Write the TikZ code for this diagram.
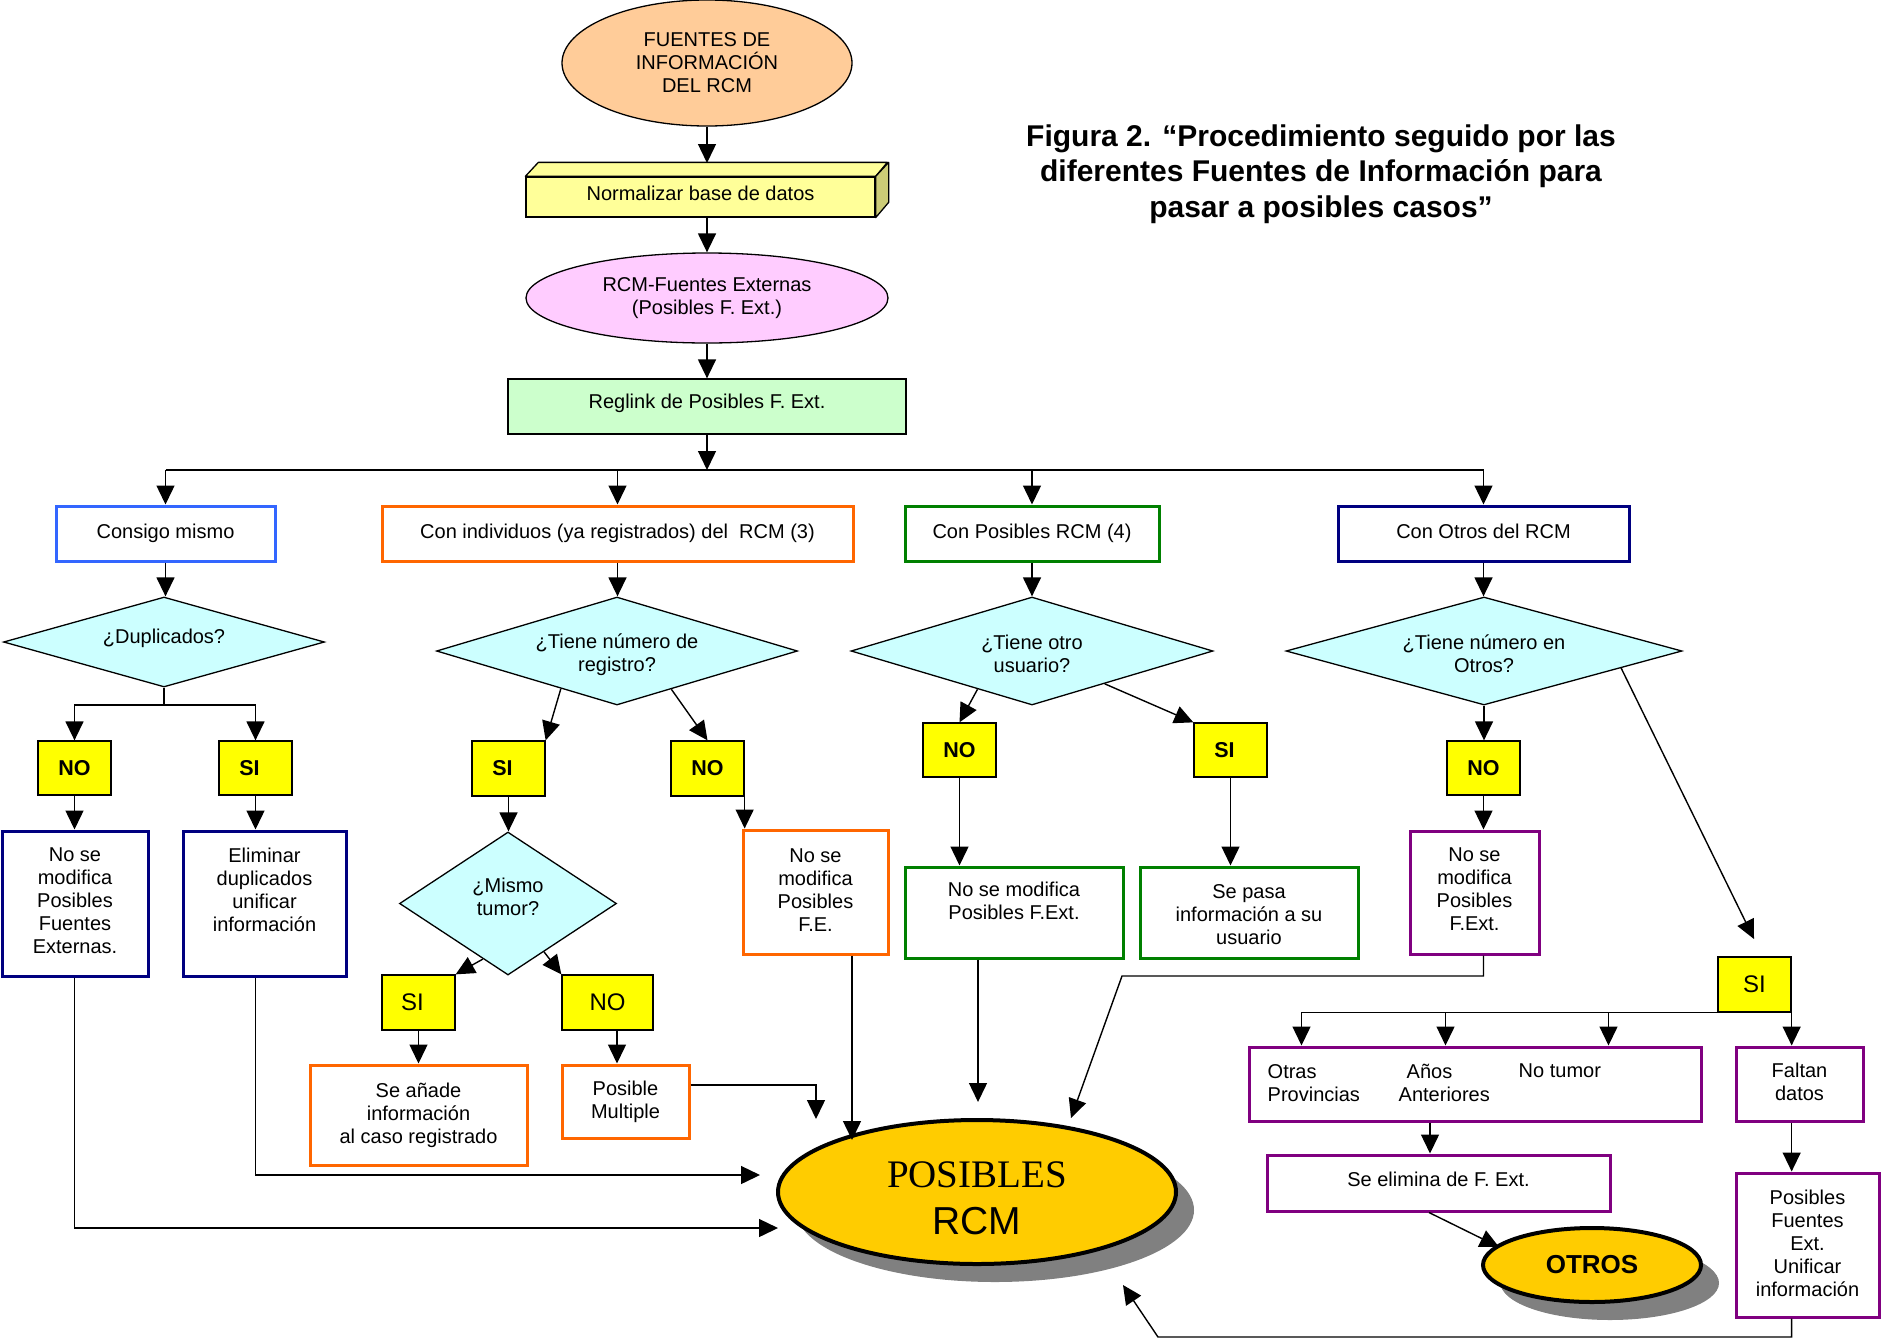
\documentclass[tikz,border=0pt]{standalone}
\usepackage{fontspec}
\setmainfont{Liberation Sans}
\newfontfamily\serifR{Liberation Serif}
\usetikzlibrary{shapes.geometric,arrows.meta,calc,shadows}

\definecolor{peach}{HTML}{FFCC99}
\definecolor{lyell}{HTML}{FFFF99}
\definecolor{sidecol}{HTML}{CCCC77}
\definecolor{pinkv}{HTML}{FFCCFF}
\definecolor{lgreen}{HTML}{CCFFCC}
\definecolor{cyanl}{HTML}{CCFFFF}
\definecolor{ynyel}{HTML}{FFFF00}
\definecolor{cblue}{HTML}{3366FF}
\definecolor{corange}{HTML}{FF6600}
\definecolor{cgreen}{HTML}{008000}
\definecolor{cnavy}{HTML}{000080}
\definecolor{cpurple}{HTML}{800080}
\definecolor{gold}{HTML}{FFCC00}

\newcommand{\fsz}[2]{\fontsize{#1}{#2}\selectfont}
\newcommand{\sileft}{SI\kern12pt}

\begin{document}
\begin{tikzpicture}[x=1pt,y=-1pt,
  every node/.style={inner sep=0pt, font=\fsz{20}{23}},
  arr/.style={line width=1.4pt, -{Triangle[length=19pt,width=18pt]}},
  ln/.style={line width=1.4pt},
  box/.style={draw=#1, line width=3pt, fill=white, rectangle},
  rowbox/.style={box=#1, minimum height=55pt, text height=14.5pt, text depth=4.5pt},
  tb/.style={anchor=north, align=center},
  yn/.style={draw, line width=1.3pt, fill=ynyel, minimum width=73pt, minimum height=54pt, font=\bfseries\fsz{21.5}{24}},
  ynr/.style={draw, line width=1.3pt, fill=ynyel, minimum width=73pt, minimum height=55pt, font=\fsz{24}{26}},
  dia/.style={diamond, draw, line width=1.3pt, fill=cyanl},
  dt/.style={align=center},
  gold ell/.style={ellipse, draw, line width=4pt, fill=gold, align=center,
     drop shadow={shadow xshift=18pt, shadow yshift=-18pt, fill=black!50, opacity=1}}
]
\useasboundingbox (0,0) rectangle (1881,1339);

% ---------- title ----------
\node[align=center, font=\bfseries\fsz{30}{35.5}] (title) at (1321,174)
  {Figura 2. “Procedimiento seguido por las\\diferentes Fuentes de Información para\\pasar a posibles casos”};

% ---------- top chain ----------
\node[ellipse, draw, line width=1.3pt, fill=peach, minimum width=290pt, minimum height=126pt, align=center]
  (fuentes) at (707,63) {FUENTES DE\\INFORMACIÓN\\DEL RCM};

\node[draw, line width=1.3pt, fill=lyell, minimum width=349pt, minimum height=40pt, text depth=7pt]
  (norm) at (700.5,197) {Normalizar base de datos};
\draw[fill=lyell, line width=1.3pt, line join=round] (norm.north west) -- ++(13,-14) -- ++(349,0) -- (norm.north east) -- cycle;
\draw[fill=sidecol, line width=1.3pt, line join=round] (norm.north east) -- ++(13,-14) -- ++(0,40) -- (norm.south east) -- cycle;
\coordinate (normtop) at (707,163);

\node[ellipse, draw, line width=1.3pt, fill=pinkv, minimum width=362pt, minimum height=90pt, align=center]
  (rcmext) at (707,298) {RCM-Fuentes Externas\\(Posibles F. Ext.)};

\node[draw, line width=1.3pt, fill=lgreen, minimum width=398pt, minimum height=55pt, text depth=11pt]
  (reglink) at (707,406.5) {Reglink de Posibles F. Ext.};

\coordinate (bus) at (707,470);

% ---------- row of four ----------
\node[rowbox=cblue, minimum width=219pt] (consigo) at (165.5,533.5) {Consigo mismo};
\node[rowbox=corange, minimum width=471pt] (conind) at (617.5,533.5) {Con individuos (ya registrados) del~ RCM (3)};
\node[rowbox=cgreen, minimum width=254pt] (conpos) at (1032,533.5) {Con Posibles RCM (4)};
\node[rowbox=cnavy, minimum width=291pt] (conotros) at (1483.5,533.5) {Con Otros del RCM};

% ---------- diamonds ----------
\node[dia, minimum width=321pt, minimum height=90pt] (dup) at (164,642) {};
\node[dt] (dup-t) at ([yshift=3.5pt]dup.center) {¿Duplicados?};
\node[dia, minimum width=361pt, minimum height=108pt] (tienereg) at (617,651) {};
\node[dt] (tienereg-t) at ([yshift=-3.5pt]tienereg.center) {¿Tiene número de\\registro?};
\node[dia, minimum width=362pt, minimum height=108pt] (tieneotro) at (1032,651) {};
\node[dt] (tieneotro-t) at ([yshift=-2.5pt]tieneotro.center) {¿Tiene otro\\usuario?};
\node[dia, minimum width=396pt, minimum height=108pt] (tieneotros) at (1484,651) {};
\node[dt] (tieneotros-t) at ([yshift=-2.5pt]tieneotros.center) {¿Tiene número en\\Otros?};
\node[dia, minimum width=217pt, minimum height=143pt] (mt) at (508,903.5) {};
\node[dt] (mt-t) at ([yshift=7pt]mt.center) {¿Mismo\\tumor?};

% ---------- yes / no ----------
\node[yn] (dupno) at (74.5,768) {NO};
\node[yn] (dupsi) at (255.5,768) {\sileft};
\node[yn, minimum height=55pt] (regsi) at (508.5,768.5) {\sileft};
\node[yn, minimum height=55pt] (regno) at (707.5,768.5) {NO};
\node[yn] (otrono) at (959.5,750) {NO};
\node[yn] (otrosi) at (1230.5,750) {\sileft};
\node[yn] (otrosno) at (1483.5,768) {NO};
\node[ynr] (mtsi) at (418.5,1002.5) {\sileft};
\node[ynr, minimum width=91pt] (mtno) at (607.5,1002.5) {NO};
\node[ynr] (otrossi) at (1754.5,984.5) {SI};

% ---------- result boxes ----------
\node[box=cnavy, minimum width=146pt, minimum height=145pt] (dupnobox) at (75,903.5) {};
\node[tb] (dupnobox-t) at ([yshift=-18pt]dupnobox.north) {No se\\modifica\\Posibles\\Fuentes\\Externas.};
\node[box=cnavy, minimum width=163pt, minimum height=145pt] (dupsibox) at (264.5,903.5) {};
\node[tb] (dupsibox-t) at ([yshift=-18pt]dupsibox.north) {Eliminar\\duplicados\\unificar\\información};

\node[box=corange, minimum width=145pt, minimum height=124pt] (regnobox) at (815.5,892) {};
\node[tb] (regnobox-t) at ([yshift=-20pt]regnobox.north) {No se\\modifica\\Posibles\\F.E.};
\node[box=corange, minimum width=217pt, minimum height=100pt] (seanade) at (418.5,1115) {};
\node[tb] (seanade-t) at ([yshift=-19pt]seanade.north) {Se añade\\información\\al caso registrado};
\node[box=corange, minimum width=127pt, minimum height=73pt] (pm) at (625.5,1101.5) {};
\node[tb] (pm-t) at ([yshift=-17.5pt]pm.north) {Posible\\Multiple};

\node[box=cgreen, minimum width=218pt, minimum height=91pt] (otronobox) at (1014,912.5) {};
\node[tb] (otronobox-t) at ([yshift=-16pt]otronobox.north) {No se modifica\\Posibles F.Ext.};
\node[box=cgreen, minimum width=218pt, minimum height=91pt] (sepasa) at (1249,912.5) {};
\node[tb] (sepasa-t) at ([yshift=-18.5pt]sepasa.north) {Se pasa\\información a su\\usuario};

\node[box=cpurple, minimum width=129pt, minimum height=123pt] (otrosnobox) at (1474.5,892.5) {};
\node[tb] (otrosnobox-t) at ([yshift=-18.5pt]otrosnobox.north) {No se\\modifica\\Posibles\\F.Ext.};

\node[box=cpurple, minimum width=452pt, minimum height=74pt] (bigbox) at (1475,1084) {};
\node[anchor=north west, align=left] (bb-t1) at ([shift={(20pt,-18.5pt)}]bigbox.north west) {Otras\\Provincias};
\node[anchor=north west, align=left] (bb-t2) at ([shift={(151pt,-18.5pt)}]bigbox.north west) {\hspace{8pt}Años\\Anteriores};
\node[anchor=north west] (bb-t3) at ([shift={(271pt,-18.5pt)}]bigbox.north west) {No tumor};

\node[box=cpurple, minimum width=127pt, minimum height=74pt] (faltan) at (1799.5,1084) {};
\node[tb] (faltan-t) at ([yshift=-17.5pt]faltan.north) {Faltan\\datos};

\node[box=cpurple, minimum width=343pt, minimum height=56pt] (selim) at (1438.5,1183) {};
\node[tb] (selim-t) at ([yshift=-18.5pt]selim.north) {Se elimina de F. Ext.};

\node[box=cpurple, minimum width=143pt, minimum height=144pt] (pfe) at (1807.5,1245) {};
\node[tb] (pfe-t) at ([yshift=-18.5pt]pfe.north) {Posibles\\Fuentes\\Ext.\\Unificar\\información};

% ---------- final ellipses ----------
\node[gold ell, minimum width=398pt, minimum height=144pt] (posibles) at (977,1192) {};
\node[align=center, font=\fsz{39}{47}] (posibles-t) at ([yshift=-6pt]posibles.center) {{\serifR POSIBLES}\\RCM};
\node[gold ell, minimum width=218pt, minimum height=74pt, font=\bfseries\fsz{26}{28},
  drop shadow={shadow xshift=17pt, shadow yshift=-17pt, fill=black!50, opacity=1}] (otros) at (1592,1265) {OTROS};

% ---------- connectors: top ----------
\draw[arr] (fuentes.south) -- (normtop);
\draw[arr] (rcmext.north |- norm.south) -- (rcmext.north);
\draw[arr] (rcmext.south) -- (reglink.north);
\draw[arr] (reglink.south) -- (bus);
\draw[ln] (consigo.north |- bus) -- (conotros.north |- bus);
\foreach \n in {consigo,conind,conpos,conotros}
  \draw[arr] (\n.north |- bus) -- (\n.north);

% ---------- column 1 ----------
\coordinate (dupbus) at (164,705);
\draw[arr] (consigo.south) -- (consigo.south |- dup.north);
\draw[ln] (dup.south) -- (dupbus);
\draw[arr] (dupbus) -| (dupno.north);
\draw[arr] (dupbus) -| (dupsi.north);
\draw[arr] (dupno.south) -- (dupno.south |- dupnobox.north);
\draw[arr] (dupsi.south) -- (dupsi.south |- dupsibox.north);
\coordinate (inL1) at (760,1175);
\coordinate (inL2) at (778,1228);
\draw[arr] (dupsi.south |- dupsibox.south) |- (inL1);
\draw[arr] (dupno.south |- dupnobox.south) |- (inL2);

% ---------- column 2 ----------
\draw[arr] (conind.south) -- (conind.south |- tienereg.north);
\draw[arr] ($(tienereg.west)!0.69!(tienereg.south)$) -- (regsi.north east);
\draw[arr] ($(tienereg.south)!0.30!(tienereg.east)$) -- (regno.north);
\draw[arr] (regno.south east) -- (regno.south east |- regnobox.north);
\draw[arr] (regsi.south) -- (regsi.south |- mt.north);
\draw[arr] ($(mt.west)!0.77!(mt.south)$) -- (mtsi.north east);
\draw[arr] ($(mt.south)!0.33!(mt.east)$) -- (mtno.north west);
\draw[arr] (mtsi.south) -- (mtsi.south |- seanade.north);
\draw[arr] ([xshift=9.5pt]mtno.south) -- ([xshift=9.5pt]mtno.south |- pm.north);
\coordinate (pmtip) at (816,1119);
\draw[arr] ([yshift=16.5pt]pm.east) -| (pmtip);
\coordinate (inT1) at (852,1140);
\draw[arr] (inT1 |- regnobox.south) -- (inT1);

% ---------- column 3 ----------
\draw[arr] (conpos.south) -- (conpos.south |- tieneotro.north);
\draw[arr] ($(tieneotro.west)!0.70!(tieneotro.south)$) -- (otrono.north);
\draw[arr] ($(tieneotro.south)!0.40!(tieneotro.east)$) -- (otrosi.north west);
\draw[arr] (otrono.south) -- (otrono.south |- otronobox.north);
\draw[arr] (otrosi.south) -- (otrosi.south |- sepasa.north);
\coordinate (inT2) at (978,1102);
\draw[arr] (inT2 |- otronobox.south) -- (inT2);

% ---------- column 4 ----------
\draw[arr] (conotros.south) -- (conotros.south |- tieneotros.north);
\draw[arr] (tieneotros.south) -- (tieneotros.south |- otrosno.north);
\draw[arr] (otrosno.south) -- (otrosno.south |- otrosnobox.north);
\coordinate (bendA) at (1122,976);
\coordinate (inT3) at (1071,1118);
\draw[arr] (otrosno.south |- otrosnobox.south) |- (bendA) -- (inT3);
\coordinate (inSI) at (1754,939);
\draw[arr] ($(tieneotros.east)!0.31!(tieneotros.south)$) -- (inSI);

% ---------- SI branch ----------
\draw[arr] (otrossi.south west) -| ([xshift=54pt]bigbox.north west);
\draw[arr] ([xshift=198pt]bigbox.north west |- otrossi.south) -- ([xshift=198pt]bigbox.north west);
\draw[arr] ([xshift=361pt]bigbox.north west |- otrossi.south) -- ([xshift=361pt]bigbox.north west);
\draw[arr] (otrossi.south east) -- (otrossi.south east |- faltan.north);
\draw[arr] (otrossi.south east |- faltan.south) -- (otrossi.south east |- pfe.north);
\draw[arr] ([xshift=-8.5pt]selim.north |- bigbox.south) -- ([xshift=-8.5pt]selim.north);
\coordinate (inO) at (1499,1247);
\draw[arr] ([xshift=-9.5pt]selim.south) -- (inO);
\coordinate (bendB) at (1158,1337);
\coordinate (inB) at (1123,1285);
\draw[arr] (otrossi.south east |- pfe.south) |- (bendB) -- (inB);

\end{tikzpicture}
\end{document}
